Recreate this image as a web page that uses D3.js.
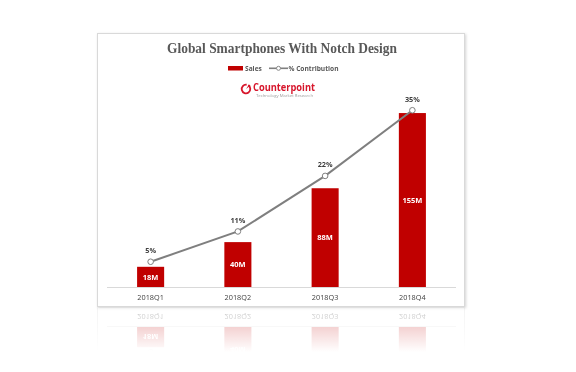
<!DOCTYPE html>
<html><head><meta charset="utf-8">
<script src="https://cdn.jsdelivr.net/npm/d3@7"></script>
<style>
html,body{margin:0;padding:0;background:#fff;}
svg{display:block;}
</style></head>
<body>
<svg id="c" width="576" height="372"></svg>
<script>
const categories = ["2018Q1","2018Q2","2018Q3","2018Q4"];
const sales = [18, 40, 88, 155];
const salesLabels = ["18M","40M","88M","155M"];
const contribution = [5, 11, 22, 35];
const contributionLabels = ["5%","11%","22%","35%"];

const svg = d3.select("#c");
const defs = svg.append("defs");

// shadow filter
const f = defs.append("filter").attr("id","sh").attr("x","-5%").attr("y","-5%").attr("width","110%").attr("height","110%");
f.append("feGaussianBlur").attr("in","SourceAlpha").attr("stdDeviation",1.5);
f.append("feOffset").attr("dx",1).attr("dy",1).attr("result","b");
f.append("feComponentTransfer").append("feFuncA").attr("type","linear").attr("slope",0.18);
const fm = f.append("feMerge"); fm.append("feMergeNode"); fm.append("feMergeNode").attr("in","SourceGraphic");

// reflection mask
const lg = defs.append("linearGradient").attr("id","rg").attr("gradientUnits","userSpaceOnUse")
  .attr("x1",0).attr("y1",307).attr("x2",0).attr("y2",352);
lg.append("stop").attr("offset",0).attr("stop-color","#fff").attr("stop-opacity",0.32);
lg.append("stop").attr("offset",1).attr("stop-color","#fff").attr("stop-opacity",0);
const mask = defs.append("mask").attr("id","rm").attr("maskUnits","userSpaceOnUse")
  .attr("x",0).attr("y",0).attr("width",576).attr("height",372);
mask.append("rect").attr("x",0).attr("y",307).attr("width",576).attr("height",60).attr("fill","url(#rg)");

const chart = defs.append("g").attr("id","chart");

// panel
chart.append("rect").attr("x",97.5).attr("y",33.5).attr("width",367).attr("height",273)
  .attr("fill","#fff").attr("stroke","#d9d9d9").attr("stroke-width",1);

const x = d3.scaleBand().domain(categories).range([107,456]).paddingInner(0.69).paddingOuter(0.345);
const yBar = d3.scaleLinear().domain([0,180]).range([287,85]);
const yLine = d3.scaleLinear().domain([0,40]).range([287,85]);

// axis line
chart.append("line").attr("x1",107).attr("x2",456).attr("y1",287.5).attr("y2",287.5)
  .attr("stroke","#d9d9d9").attr("stroke-width",1);

// bars
chart.selectAll("rect.bar").data(sales).join("rect").attr("class","bar")
  .attr("x",(d,i)=>x(categories[i])).attr("width",x.bandwidth())
  .attr("y",d=>yBar(d)).attr("height",d=>yBar(0)-yBar(d)).attr("fill","#c00000");

// bar labels
chart.selectAll("text.bl").data(sales).join("text").attr("class","bl")
  .attr("x",(d,i)=>x(categories[i])+x.bandwidth()/2)
  .attr("y",d=>(yBar(d)+yBar(0))/2+2.7)
  .attr("text-anchor","middle").attr("font-family","Open Sans, sans-serif").attr("font-weight","bold")
  .attr("font-size",7.5).attr("fill","#fff").text((d,i)=>salesLabels[i]);

// category axis labels
chart.selectAll("text.cat").data(categories).join("text").attr("class","cat")
  .attr("x",d=>x(d)+x.bandwidth()/2).attr("y",300)
  .attr("text-anchor","middle").attr("font-family","Open Sans, sans-serif")
  .attr("font-size",7.3).attr("fill","#404040").text(d=>d);

// line
const cx = (d,i)=>x(categories[i])+x.bandwidth()/2;
const line = d3.line().x(cx).y(d=>yLine(d));
chart.append("path").datum(contribution).attr("d",line).attr("fill","none")
  .attr("stroke","#7f7f7f").attr("stroke-width",2);
chart.selectAll("circle.pt").data(contribution).join("circle").attr("class","pt")
  .attr("cx",cx).attr("cy",d=>yLine(d)).attr("r",2.8)
  .attr("fill","#fff").attr("stroke","#7f7f7f").attr("stroke-width",1);
chart.selectAll("text.pl").data(contribution).join("text").attr("class","pl")
  .attr("x",cx).attr("y",d=>yLine(d)-8.5)
  .attr("text-anchor","middle").attr("font-family","Open Sans, sans-serif").attr("font-weight","bold")
  .attr("font-size",7.3).attr("fill","#404040").text((d,i)=>contributionLabels[i]);

// title
chart.append("text").attr("x",282).attr("y",52.5).attr("text-anchor","middle")
  .attr("font-family","Liberation Serif, serif").attr("font-weight","bold").attr("font-size",15)
  .attr("fill","#595959").attr("textLength",230).attr("lengthAdjust","spacingAndGlyphs")
  .text("Global Smartphones With Notch Design");

// legend
const leg = chart.append("g");
leg.append("rect").attr("x",228).attr("y",66).attr("width",15).attr("height",4.5).attr("fill","#c00000");
leg.append("text").attr("x",245).attr("y",70.8).attr("font-family","Open Sans, sans-serif").attr("font-weight","bold")
  .attr("font-size",6.6).attr("fill","#595959").text("Sales");
leg.append("line").attr("x1",269).attr("x2",288).attr("y1",68.3).attr("y2",68.3).attr("stroke","#7f7f7f").attr("stroke-width",1.6);
leg.append("circle").attr("cx",278.5).attr("cy",68.3).attr("r",2).attr("fill","#fff").attr("stroke","#7f7f7f").attr("stroke-width",0.9);
leg.append("text").attr("x",288.5).attr("y",70.8).attr("font-family","Open Sans, sans-serif").attr("font-weight","bold")
  .attr("font-size",6.6).attr("fill","#595959").attr("textLength",50).attr("lengthAdjust","spacingAndGlyphs").text("% Contribution");

// logo
const logo = chart.append("g");
logo.append("path").attr("d",d3.arc()({innerRadius:3.4,outerRadius:5.2,startAngle:0.55,endAngle:2*Math.PI+0.15}))
  .attr("transform","translate(246,89)").attr("fill","#d7142b");
logo.append("path").attr("d","M246,89 L249,84.5 L250.5,85.5 Z").attr("fill","#d7142b");
logo.append("text").attr("x",253).attr("y",91).attr("font-family","Open Sans, sans-serif").attr("font-weight","bold")
  .attr("font-size",10).attr("fill","#d7142b").attr("textLength",62).attr("lengthAdjust","spacingAndGlyphs").text("Counterpoint");
logo.append("text").attr("x",256).attr("y",96.5).attr("font-family","Open Sans, sans-serif")
  .attr("font-size",3.6).attr("fill","#9a9a9a").attr("textLength",57).attr("lengthAdjust","spacingAndGlyphs").text("Technology Market Research");

// draw chart with shadow
svg.append("use").attr("href","#chart").attr("filter","url(#sh)");
// reflection
svg.append("g").attr("mask","url(#rm)")
  .append("use").attr("href","#chart").attr("transform","translate(0,614) scale(1,-1)");
</script>
</body></html>
